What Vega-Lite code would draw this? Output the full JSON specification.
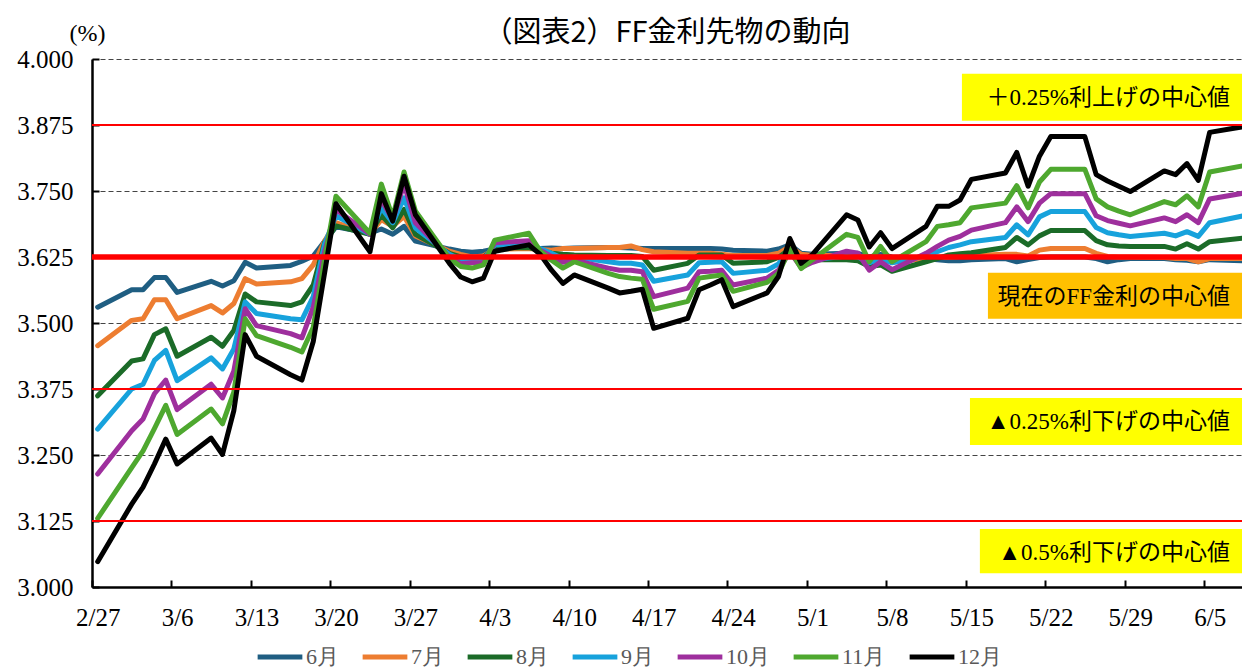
{
"$schema":"https://vega.github.io/schema/vega-lite/v6.json",
"width":1150,"height":528,
"autosize":{"type":"none"},
"padding":{"left":92,"top":59,"right":0,"bottom":83},
"background":"white",
"title":{"text":"（図表2）FF金利先物の動向","anchor":"middle","font":"Noto Sans CJK JP","fontSize":29,"fontWeight":"normal","color":"#000000","offset":0,"dy":27},
"config":{"view":{"stroke":null}},
"datasets":{
"lines":[
{"d":"2026-02-27","s":"6月","v":3.530},{"d":"2026-03-02","s":"6月","v":3.563},{"d":"2026-03-03","s":"6月","v":3.563},{"d":"2026-03-04","s":"6月","v":3.586},{"d":"2026-03-05","s":"6月","v":3.586},{"d":"2026-03-06","s":"6月","v":3.558},{"d":"2026-03-09","s":"6月","v":3.579},{"d":"2026-03-10","s":"6月","v":3.570},{"d":"2026-03-11","s":"6月","v":3.580},{"d":"2026-03-12","s":"6月","v":3.615},{"d":"2026-03-13","s":"6月","v":3.604},{"d":"2026-03-16","s":"6月","v":3.609},{"d":"2026-03-17","s":"6月","v":3.617},{"d":"2026-03-18","s":"6月","v":3.627},{"d":"2026-03-19","s":"6月","v":3.655},{"d":"2026-03-20","s":"6月","v":3.682},{"d":"2026-03-23","s":"6月","v":3.670},{"d":"2026-03-24","s":"6月","v":3.678},{"d":"2026-03-25","s":"6月","v":3.668},{"d":"2026-03-26","s":"6月","v":3.683},{"d":"2026-03-27","s":"6月","v":3.655},{"d":"2026-03-30","s":"6月","v":3.640},{"d":"2026-03-31","s":"6月","v":3.636},{"d":"2026-04-01","s":"6月","v":3.634},{"d":"2026-04-02","s":"6月","v":3.636},{"d":"2026-04-03","s":"6月","v":3.640},{"d":"2026-04-06","s":"6月","v":3.643},{"d":"2026-04-07","s":"6月","v":3.641},{"d":"2026-04-08","s":"6月","v":3.642},{"d":"2026-04-09","s":"6月","v":3.641},{"d":"2026-04-10","s":"6月","v":3.642},{"d":"2026-04-13","s":"6月","v":3.643},{"d":"2026-04-14","s":"6月","v":3.643},{"d":"2026-04-15","s":"6月","v":3.642},{"d":"2026-04-16","s":"6月","v":3.641},{"d":"2026-04-17","s":"6月","v":3.641},{"d":"2026-04-20","s":"6月","v":3.641},{"d":"2026-04-21","s":"6月","v":3.641},{"d":"2026-04-22","s":"6月","v":3.641},{"d":"2026-04-23","s":"6月","v":3.640},{"d":"2026-04-24","s":"6月","v":3.638},{"d":"2026-04-27","s":"6月","v":3.636},{"d":"2026-04-28","s":"6月","v":3.640},{"d":"2026-04-29","s":"6月","v":3.648},{"d":"2026-04-30","s":"6月","v":3.632},{"d":"2026-05-01","s":"6月","v":3.630},{"d":"2026-05-04","s":"6月","v":3.632},{"d":"2026-05-05","s":"6月","v":3.632},{"d":"2026-05-06","s":"6月","v":3.625},{"d":"2026-05-07","s":"6月","v":3.630},{"d":"2026-05-08","s":"6月","v":3.625},{"d":"2026-05-11","s":"6月","v":3.622},{"d":"2026-05-12","s":"6月","v":3.620},{"d":"2026-05-13","s":"6月","v":3.618},{"d":"2026-05-14","s":"6月","v":3.618},{"d":"2026-05-15","s":"6月","v":3.620},{"d":"2026-05-18","s":"6月","v":3.622},{"d":"2026-05-19","s":"6月","v":3.616},{"d":"2026-05-20","s":"6月","v":3.620},{"d":"2026-05-21","s":"6月","v":3.624},{"d":"2026-05-22","s":"6月","v":3.625},{"d":"2026-05-25","s":"6月","v":3.625},{"d":"2026-05-26","s":"6月","v":3.622},{"d":"2026-05-27","s":"6月","v":3.616},{"d":"2026-05-28","s":"6月","v":3.620},{"d":"2026-05-29","s":"6月","v":3.622},{"d":"2026-06-01","s":"6月","v":3.622},{"d":"2026-06-02","s":"6月","v":3.620},{"d":"2026-06-03","s":"6月","v":3.619},{"d":"2026-06-04","s":"6月","v":3.616},{"d":"2026-06-05","s":"6月","v":3.620},{"d":"2026-06-08","s":"6月","v":3.618},
{"d":"2026-02-27","s":"7月","v":3.457},{"d":"2026-03-02","s":"7月","v":3.505},{"d":"2026-03-03","s":"7月","v":3.508},{"d":"2026-03-04","s":"7月","v":3.544},{"d":"2026-03-05","s":"7月","v":3.544},{"d":"2026-03-06","s":"7月","v":3.508},{"d":"2026-03-09","s":"7月","v":3.533},{"d":"2026-03-10","s":"7月","v":3.519},{"d":"2026-03-11","s":"7月","v":3.537},{"d":"2026-03-12","s":"7月","v":3.584},{"d":"2026-03-13","s":"7月","v":3.574},{"d":"2026-03-16","s":"7月","v":3.578},{"d":"2026-03-17","s":"7月","v":3.584},{"d":"2026-03-18","s":"7月","v":3.610},{"d":"2026-03-19","s":"7月","v":3.655},{"d":"2026-03-20","s":"7月","v":3.690},{"d":"2026-03-23","s":"7月","v":3.668},{"d":"2026-03-24","s":"7月","v":3.696},{"d":"2026-03-25","s":"7月","v":3.683},{"d":"2026-03-26","s":"7月","v":3.702},{"d":"2026-03-27","s":"7月","v":3.665},{"d":"2026-03-30","s":"7月","v":3.636},{"d":"2026-03-31","s":"7月","v":3.630},{"d":"2026-04-01","s":"7月","v":3.625},{"d":"2026-04-02","s":"7月","v":3.627},{"d":"2026-04-03","s":"7月","v":3.640},{"d":"2026-04-06","s":"7月","v":3.641},{"d":"2026-04-07","s":"7月","v":3.639},{"d":"2026-04-08","s":"7月","v":3.638},{"d":"2026-04-09","s":"7月","v":3.641},{"d":"2026-04-10","s":"7月","v":3.641},{"d":"2026-04-13","s":"7月","v":3.643},{"d":"2026-04-14","s":"7月","v":3.643},{"d":"2026-04-15","s":"7月","v":3.646},{"d":"2026-04-16","s":"7月","v":3.639},{"d":"2026-04-17","s":"7月","v":3.635},{"d":"2026-04-20","s":"7月","v":3.632},{"d":"2026-04-21","s":"7月","v":3.632},{"d":"2026-04-22","s":"7月","v":3.632},{"d":"2026-04-23","s":"7月","v":3.630},{"d":"2026-04-24","s":"7月","v":3.628},{"d":"2026-04-27","s":"7月","v":3.628},{"d":"2026-04-28","s":"7月","v":3.632},{"d":"2026-04-29","s":"7月","v":3.645},{"d":"2026-04-30","s":"7月","v":3.630},{"d":"2026-05-01","s":"7月","v":3.628},{"d":"2026-05-04","s":"7月","v":3.628},{"d":"2026-05-05","s":"7月","v":3.628},{"d":"2026-05-06","s":"7月","v":3.620},{"d":"2026-05-07","s":"7月","v":3.625},{"d":"2026-05-08","s":"7月","v":3.615},{"d":"2026-05-11","s":"7月","v":3.622},{"d":"2026-05-12","s":"7月","v":3.625},{"d":"2026-05-13","s":"7月","v":3.625},{"d":"2026-05-14","s":"7月","v":3.626},{"d":"2026-05-15","s":"7月","v":3.628},{"d":"2026-05-18","s":"7月","v":3.630},{"d":"2026-05-19","s":"7月","v":3.630},{"d":"2026-05-20","s":"7月","v":3.627},{"d":"2026-05-21","s":"7月","v":3.638},{"d":"2026-05-22","s":"7月","v":3.641},{"d":"2026-05-25","s":"7月","v":3.641},{"d":"2026-05-26","s":"7月","v":3.632},{"d":"2026-05-27","s":"7月","v":3.626},{"d":"2026-05-28","s":"7月","v":3.625},{"d":"2026-05-29","s":"7月","v":3.625},{"d":"2026-06-01","s":"7月","v":3.624},{"d":"2026-06-02","s":"7月","v":3.622},{"d":"2026-06-03","s":"7月","v":3.622},{"d":"2026-06-04","s":"7月","v":3.616},{"d":"2026-06-05","s":"7月","v":3.622},{"d":"2026-06-08","s":"7月","v":3.622},
{"d":"2026-02-27","s":"8月","v":3.362},{"d":"2026-03-02","s":"8月","v":3.428},{"d":"2026-03-03","s":"8月","v":3.432},{"d":"2026-03-04","s":"8月","v":3.478},{"d":"2026-03-05","s":"8月","v":3.489},{"d":"2026-03-06","s":"8月","v":3.437},{"d":"2026-03-09","s":"8月","v":3.473},{"d":"2026-03-10","s":"8月","v":3.456},{"d":"2026-03-11","s":"8月","v":3.486},{"d":"2026-03-12","s":"8月","v":3.555},{"d":"2026-03-13","s":"8月","v":3.540},{"d":"2026-03-16","s":"8月","v":3.533},{"d":"2026-03-17","s":"8月","v":3.540},{"d":"2026-03-18","s":"8月","v":3.572},{"d":"2026-03-19","s":"8月","v":3.652},{"d":"2026-03-20","s":"8月","v":3.684},{"d":"2026-03-23","s":"8月","v":3.668},{"d":"2026-03-24","s":"8月","v":3.705},{"d":"2026-03-25","s":"8月","v":3.680},{"d":"2026-03-26","s":"8月","v":3.715},{"d":"2026-03-27","s":"8月","v":3.668},{"d":"2026-03-30","s":"8月","v":3.632},{"d":"2026-03-31","s":"8月","v":3.625},{"d":"2026-04-01","s":"8月","v":3.622},{"d":"2026-04-02","s":"8月","v":3.624},{"d":"2026-04-03","s":"8月","v":3.642},{"d":"2026-04-06","s":"8月","v":3.643},{"d":"2026-04-07","s":"8月","v":3.637},{"d":"2026-04-08","s":"8月","v":3.632},{"d":"2026-04-09","s":"8月","v":3.630},{"d":"2026-04-10","s":"8月","v":3.629},{"d":"2026-04-13","s":"8月","v":3.628},{"d":"2026-04-14","s":"8月","v":3.628},{"d":"2026-04-15","s":"8月","v":3.628},{"d":"2026-04-16","s":"8月","v":3.626},{"d":"2026-04-17","s":"8月","v":3.600},{"d":"2026-04-20","s":"8月","v":3.613},{"d":"2026-04-21","s":"8月","v":3.629},{"d":"2026-04-22","s":"8月","v":3.629},{"d":"2026-04-23","s":"8月","v":3.629},{"d":"2026-04-24","s":"8月","v":3.613},{"d":"2026-04-27","s":"8月","v":3.616},{"d":"2026-04-28","s":"8月","v":3.624},{"d":"2026-04-29","s":"8月","v":3.640},{"d":"2026-04-30","s":"8月","v":3.618},{"d":"2026-05-01","s":"8月","v":3.620},{"d":"2026-05-04","s":"8月","v":3.620},{"d":"2026-05-05","s":"8月","v":3.618},{"d":"2026-05-06","s":"8月","v":3.607},{"d":"2026-05-07","s":"8月","v":3.610},{"d":"2026-05-08","s":"8月","v":3.598},{"d":"2026-05-11","s":"8月","v":3.616},{"d":"2026-05-12","s":"8月","v":3.622},{"d":"2026-05-13","s":"8月","v":3.629},{"d":"2026-05-14","s":"8月","v":3.631},{"d":"2026-05-15","s":"8月","v":3.633},{"d":"2026-05-18","s":"8月","v":3.643},{"d":"2026-05-19","s":"8月","v":3.662},{"d":"2026-05-20","s":"8月","v":3.648},{"d":"2026-05-21","s":"8月","v":3.665},{"d":"2026-05-22","s":"8月","v":3.675},{"d":"2026-05-25","s":"8月","v":3.675},{"d":"2026-05-26","s":"8月","v":3.656},{"d":"2026-05-27","s":"8月","v":3.648},{"d":"2026-05-28","s":"8月","v":3.646},{"d":"2026-05-29","s":"8月","v":3.645},{"d":"2026-06-01","s":"8月","v":3.645},{"d":"2026-06-02","s":"8月","v":3.640},{"d":"2026-06-03","s":"8月","v":3.650},{"d":"2026-06-04","s":"8月","v":3.640},{"d":"2026-06-05","s":"8月","v":3.654},{"d":"2026-06-08","s":"8月","v":3.661},
{"d":"2026-02-27","s":"9月","v":3.299},{"d":"2026-03-02","s":"9月","v":3.375},{"d":"2026-03-03","s":"9月","v":3.384},{"d":"2026-03-04","s":"9月","v":3.429},{"d":"2026-03-05","s":"9月","v":3.448},{"d":"2026-03-06","s":"9月","v":3.391},{"d":"2026-03-09","s":"9月","v":3.434},{"d":"2026-03-10","s":"9月","v":3.413},{"d":"2026-03-11","s":"9月","v":3.451},{"d":"2026-03-12","s":"9月","v":3.540},{"d":"2026-03-13","s":"9月","v":3.518},{"d":"2026-03-16","s":"9月","v":3.508},{"d":"2026-03-17","s":"9月","v":3.506},{"d":"2026-03-18","s":"9月","v":3.550},{"d":"2026-03-19","s":"9月","v":3.650},{"d":"2026-03-20","s":"9月","v":3.703},{"d":"2026-03-23","s":"9月","v":3.668},{"d":"2026-03-24","s":"9月","v":3.718},{"d":"2026-03-25","s":"9月","v":3.690},{"d":"2026-03-26","s":"9月","v":3.737},{"d":"2026-03-27","s":"9月","v":3.680},{"d":"2026-03-30","s":"9月","v":3.630},{"d":"2026-03-31","s":"9月","v":3.620},{"d":"2026-04-01","s":"9月","v":3.618},{"d":"2026-04-02","s":"9月","v":3.620},{"d":"2026-04-03","s":"9月","v":3.648},{"d":"2026-04-06","s":"9月","v":3.648},{"d":"2026-04-07","s":"9月","v":3.641},{"d":"2026-04-08","s":"9月","v":3.632},{"d":"2026-04-09","s":"9月","v":3.622},{"d":"2026-04-10","s":"9月","v":3.625},{"d":"2026-04-13","s":"9月","v":3.616},{"d":"2026-04-14","s":"9月","v":3.613},{"d":"2026-04-15","s":"9月","v":3.613},{"d":"2026-04-16","s":"9月","v":3.610},{"d":"2026-04-17","s":"9月","v":3.579},{"d":"2026-04-20","s":"9月","v":3.591},{"d":"2026-04-21","s":"9月","v":3.614},{"d":"2026-04-22","s":"9月","v":3.615},{"d":"2026-04-23","s":"9月","v":3.616},{"d":"2026-04-24","s":"9月","v":3.594},{"d":"2026-04-27","s":"9月","v":3.600},{"d":"2026-04-28","s":"9月","v":3.612},{"d":"2026-04-29","s":"9月","v":3.638},{"d":"2026-04-30","s":"9月","v":3.615},{"d":"2026-05-01","s":"9月","v":3.620},{"d":"2026-05-04","s":"9月","v":3.627},{"d":"2026-05-05","s":"9月","v":3.625},{"d":"2026-05-06","s":"9月","v":3.614},{"d":"2026-05-07","s":"9月","v":3.622},{"d":"2026-05-08","s":"9月","v":3.614},{"d":"2026-05-11","s":"9月","v":3.627},{"d":"2026-05-12","s":"9月","v":3.635},{"d":"2026-05-13","s":"9月","v":3.643},{"d":"2026-05-14","s":"9月","v":3.648},{"d":"2026-05-15","s":"9月","v":3.654},{"d":"2026-05-18","s":"9月","v":3.662},{"d":"2026-05-19","s":"9月","v":3.686},{"d":"2026-05-20","s":"9月","v":3.667},{"d":"2026-05-21","s":"9月","v":3.701},{"d":"2026-05-22","s":"9月","v":3.711},{"d":"2026-05-25","s":"9月","v":3.711},{"d":"2026-05-26","s":"9月","v":3.681},{"d":"2026-05-27","s":"9月","v":3.671},{"d":"2026-05-28","s":"9月","v":3.667},{"d":"2026-05-29","s":"9月","v":3.664},{"d":"2026-06-01","s":"9月","v":3.670},{"d":"2026-06-02","s":"9月","v":3.665},{"d":"2026-06-03","s":"9月","v":3.673},{"d":"2026-06-04","s":"9月","v":3.664},{"d":"2026-06-05","s":"9月","v":3.690},{"d":"2026-06-08","s":"9月","v":3.703},
{"d":"2026-02-27","s":"10月","v":3.214},{"d":"2026-03-02","s":"10月","v":3.296},{"d":"2026-03-03","s":"10月","v":3.318},{"d":"2026-03-04","s":"10月","v":3.366},{"d":"2026-03-05","s":"10月","v":3.392},{"d":"2026-03-06","s":"10月","v":3.336},{"d":"2026-03-09","s":"10月","v":3.384},{"d":"2026-03-10","s":"10月","v":3.358},{"d":"2026-03-11","s":"10月","v":3.409},{"d":"2026-03-12","s":"10月","v":3.527},{"d":"2026-03-13","s":"10月","v":3.495},{"d":"2026-03-16","s":"10月","v":3.480},{"d":"2026-03-17","s":"10月","v":3.472},{"d":"2026-03-18","s":"10月","v":3.530},{"d":"2026-03-19","s":"10月","v":3.635},{"d":"2026-03-20","s":"10月","v":3.715},{"d":"2026-03-23","s":"10月","v":3.668},{"d":"2026-03-24","s":"10月","v":3.734},{"d":"2026-03-25","s":"10月","v":3.695},{"d":"2026-03-26","s":"10月","v":3.763},{"d":"2026-03-27","s":"10月","v":3.690},{"d":"2026-03-30","s":"10月","v":3.625},{"d":"2026-03-31","s":"10月","v":3.612},{"d":"2026-04-01","s":"10月","v":3.614},{"d":"2026-04-02","s":"10月","v":3.614},{"d":"2026-04-03","s":"10月","v":3.652},{"d":"2026-04-06","s":"10月","v":3.656},{"d":"2026-04-07","s":"10月","v":3.638},{"d":"2026-04-08","s":"10月","v":3.626},{"d":"2026-04-09","s":"10月","v":3.615},{"d":"2026-04-10","s":"10月","v":3.619},{"d":"2026-04-13","s":"10月","v":3.604},{"d":"2026-04-14","s":"10月","v":3.600},{"d":"2026-04-15","s":"10月","v":3.600},{"d":"2026-04-16","s":"10月","v":3.597},{"d":"2026-04-17","s":"10月","v":3.550},{"d":"2026-04-20","s":"10月","v":3.566},{"d":"2026-04-21","s":"10月","v":3.597},{"d":"2026-04-22","s":"10月","v":3.598},{"d":"2026-04-23","s":"10月","v":3.600},{"d":"2026-04-24","s":"10月","v":3.572},{"d":"2026-04-27","s":"10月","v":3.585},{"d":"2026-04-28","s":"10月","v":3.600},{"d":"2026-04-29","s":"10月","v":3.635},{"d":"2026-04-30","s":"10月","v":3.605},{"d":"2026-05-01","s":"10月","v":3.615},{"d":"2026-05-04","s":"10月","v":3.636},{"d":"2026-05-05","s":"10月","v":3.632},{"d":"2026-05-06","s":"10月","v":3.600},{"d":"2026-05-07","s":"10月","v":3.616},{"d":"2026-05-08","s":"10月","v":3.601},{"d":"2026-05-11","s":"10月","v":3.632},{"d":"2026-05-12","s":"10月","v":3.645},{"d":"2026-05-13","s":"10月","v":3.657},{"d":"2026-05-14","s":"10月","v":3.664},{"d":"2026-05-15","s":"10月","v":3.676},{"d":"2026-05-18","s":"10月","v":3.690},{"d":"2026-05-19","s":"10月","v":3.720},{"d":"2026-05-20","s":"10月","v":3.692},{"d":"2026-05-21","s":"10月","v":3.727},{"d":"2026-05-22","s":"10月","v":3.745},{"d":"2026-05-25","s":"10月","v":3.745},{"d":"2026-05-26","s":"10月","v":3.703},{"d":"2026-05-27","s":"10月","v":3.694},{"d":"2026-05-28","s":"10月","v":3.689},{"d":"2026-05-29","s":"10月","v":3.684},{"d":"2026-06-01","s":"10月","v":3.699},{"d":"2026-06-02","s":"10月","v":3.692},{"d":"2026-06-03","s":"10月","v":3.705},{"d":"2026-06-04","s":"10月","v":3.690},{"d":"2026-06-05","s":"10月","v":3.735},{"d":"2026-06-08","s":"10月","v":3.746},
{"d":"2026-02-27","s":"11月","v":3.130},{"d":"2026-03-02","s":"11月","v":3.226},{"d":"2026-03-03","s":"11月","v":3.258},{"d":"2026-03-04","s":"11月","v":3.300},{"d":"2026-03-05","s":"11月","v":3.344},{"d":"2026-03-06","s":"11月","v":3.289},{"d":"2026-03-09","s":"11月","v":3.337},{"d":"2026-03-10","s":"11月","v":3.309},{"d":"2026-03-11","s":"11月","v":3.369},{"d":"2026-03-12","s":"11月","v":3.508},{"d":"2026-03-13","s":"11月","v":3.476},{"d":"2026-03-16","s":"11月","v":3.454},{"d":"2026-03-17","s":"11月","v":3.445},{"d":"2026-03-18","s":"11月","v":3.492},{"d":"2026-03-19","s":"11月","v":3.620},{"d":"2026-03-20","s":"11月","v":3.740},{"d":"2026-03-23","s":"11月","v":3.670},{"d":"2026-03-24","s":"11月","v":3.763},{"d":"2026-03-25","s":"11月","v":3.700},{"d":"2026-03-26","s":"11月","v":3.786},{"d":"2026-03-27","s":"11月","v":3.712},{"d":"2026-03-30","s":"11月","v":3.622},{"d":"2026-03-31","s":"11月","v":3.607},{"d":"2026-04-01","s":"11月","v":3.604},{"d":"2026-04-02","s":"11月","v":3.610},{"d":"2026-04-03","s":"11月","v":3.657},{"d":"2026-04-06","s":"11月","v":3.670},{"d":"2026-04-07","s":"11月","v":3.636},{"d":"2026-04-08","s":"11月","v":3.619},{"d":"2026-04-09","s":"11月","v":3.604},{"d":"2026-04-10","s":"11月","v":3.616},{"d":"2026-04-13","s":"11月","v":3.594},{"d":"2026-04-14","s":"11月","v":3.588},{"d":"2026-04-15","s":"11月","v":3.585},{"d":"2026-04-16","s":"11月","v":3.583},{"d":"2026-04-17","s":"11月","v":3.526},{"d":"2026-04-20","s":"11月","v":3.541},{"d":"2026-04-21","s":"11月","v":3.585},{"d":"2026-04-22","s":"11月","v":3.588},{"d":"2026-04-23","s":"11月","v":3.591},{"d":"2026-04-24","s":"11月","v":3.560},{"d":"2026-04-27","s":"11月","v":3.577},{"d":"2026-04-28","s":"11月","v":3.594},{"d":"2026-04-29","s":"11月","v":3.640},{"d":"2026-04-30","s":"11月","v":3.603},{"d":"2026-05-01","s":"11月","v":3.620},{"d":"2026-05-04","s":"11月","v":3.668},{"d":"2026-05-05","s":"11月","v":3.662},{"d":"2026-05-06","s":"11月","v":3.616},{"d":"2026-05-07","s":"11月","v":3.645},{"d":"2026-05-08","s":"11月","v":3.616},{"d":"2026-05-11","s":"11月","v":3.654},{"d":"2026-05-12","s":"11月","v":3.683},{"d":"2026-05-13","s":"11月","v":3.686},{"d":"2026-05-14","s":"11月","v":3.690},{"d":"2026-05-15","s":"11月","v":3.718},{"d":"2026-05-18","s":"11月","v":3.727},{"d":"2026-05-19","s":"11月","v":3.760},{"d":"2026-05-20","s":"11月","v":3.718},{"d":"2026-05-21","s":"11月","v":3.767},{"d":"2026-05-22","s":"11月","v":3.791},{"d":"2026-05-25","s":"11月","v":3.791},{"d":"2026-05-26","s":"11月","v":3.735},{"d":"2026-05-27","s":"11月","v":3.720},{"d":"2026-05-28","s":"11月","v":3.712},{"d":"2026-05-29","s":"11月","v":3.705},{"d":"2026-06-01","s":"11月","v":3.730},{"d":"2026-06-02","s":"11月","v":3.724},{"d":"2026-06-03","s":"11月","v":3.741},{"d":"2026-06-04","s":"11月","v":3.720},{"d":"2026-06-05","s":"11月","v":3.786},{"d":"2026-06-08","s":"11月","v":3.798},
{"d":"2026-02-27","s":"12月","v":3.048},{"d":"2026-03-02","s":"12月","v":3.157},{"d":"2026-03-03","s":"12月","v":3.189},{"d":"2026-03-04","s":"12月","v":3.233},{"d":"2026-03-05","s":"12月","v":3.280},{"d":"2026-03-06","s":"12月","v":3.233},{"d":"2026-03-09","s":"12月","v":3.282},{"d":"2026-03-10","s":"12月","v":3.251},{"d":"2026-03-11","s":"12月","v":3.334},{"d":"2026-03-12","s":"12月","v":3.478},{"d":"2026-03-13","s":"12月","v":3.437},{"d":"2026-03-16","s":"12月","v":3.402},{"d":"2026-03-17","s":"12月","v":3.392},{"d":"2026-03-18","s":"12月","v":3.465},{"d":"2026-03-19","s":"12月","v":3.595},{"d":"2026-03-20","s":"12月","v":3.726},{"d":"2026-03-23","s":"12月","v":3.635},{"d":"2026-03-24","s":"12月","v":3.745},{"d":"2026-03-25","s":"12月","v":3.693},{"d":"2026-03-26","s":"12月","v":3.778},{"d":"2026-03-27","s":"12月","v":3.705},{"d":"2026-03-30","s":"12月","v":3.613},{"d":"2026-03-31","s":"12月","v":3.587},{"d":"2026-04-01","s":"12月","v":3.578},{"d":"2026-04-02","s":"12月","v":3.585},{"d":"2026-04-03","s":"12月","v":3.636},{"d":"2026-04-06","s":"12月","v":3.648},{"d":"2026-04-07","s":"12月","v":3.630},{"d":"2026-04-08","s":"12月","v":3.600},{"d":"2026-04-09","s":"12月","v":3.575},{"d":"2026-04-10","s":"12月","v":3.591},{"d":"2026-04-13","s":"12月","v":3.566},{"d":"2026-04-14","s":"12月","v":3.557},{"d":"2026-04-15","s":"12月","v":3.560},{"d":"2026-04-16","s":"12月","v":3.564},{"d":"2026-04-17","s":"12月","v":3.490},{"d":"2026-04-20","s":"12月","v":3.509},{"d":"2026-04-21","s":"12月","v":3.563},{"d":"2026-04-22","s":"12月","v":3.572},{"d":"2026-04-23","s":"12月","v":3.582},{"d":"2026-04-24","s":"12月","v":3.531},{"d":"2026-04-27","s":"12月","v":3.557},{"d":"2026-04-28","s":"12月","v":3.588},{"d":"2026-04-29","s":"12月","v":3.660},{"d":"2026-04-30","s":"12月","v":3.613},{"d":"2026-05-01","s":"12月","v":3.630},{"d":"2026-05-04","s":"12月","v":3.705},{"d":"2026-05-05","s":"12月","v":3.695},{"d":"2026-05-06","s":"12月","v":3.644},{"d":"2026-05-07","s":"12月","v":3.671},{"d":"2026-05-08","s":"12月","v":3.641},{"d":"2026-05-11","s":"12月","v":3.683},{"d":"2026-05-12","s":"12月","v":3.721},{"d":"2026-05-13","s":"12月","v":3.721},{"d":"2026-05-14","s":"12月","v":3.733},{"d":"2026-05-15","s":"12月","v":3.772},{"d":"2026-05-18","s":"12月","v":3.784},{"d":"2026-05-19","s":"12月","v":3.823},{"d":"2026-05-20","s":"12月","v":3.759},{"d":"2026-05-21","s":"12月","v":3.816},{"d":"2026-05-22","s":"12月","v":3.853},{"d":"2026-05-25","s":"12月","v":3.853},{"d":"2026-05-26","s":"12月","v":3.781},{"d":"2026-05-27","s":"12月","v":3.769},{"d":"2026-05-28","s":"12月","v":3.759},{"d":"2026-05-29","s":"12月","v":3.749},{"d":"2026-06-01","s":"12月","v":3.788},{"d":"2026-06-02","s":"12月","v":3.781},{"d":"2026-06-03","s":"12月","v":3.802},{"d":"2026-06-04","s":"12月","v":3.770},{"d":"2026-06-05","s":"12月","v":3.861},{"d":"2026-06-08","s":"12月","v":3.872}
],
"thin":[{"v":3.875},{"v":3.375},{"v":3.125}],
"thick":[{"v":3.625}],
"yellow":[
{"x":"2026-05-14T04:00:00Z","x2":"2026-06-09T00:00:00Z","y":3.972,"y2":3.883},
{"x":"2026-05-14T21:00:00Z","x2":"2026-06-09T00:00:00Z","y":3.358,"y2":3.269},
{"x":"2026-05-15T18:00:00Z","x2":"2026-06-09T00:00:00Z","y":3.110,"y2":3.026}
],
"orange":[{"x":"2026-05-16T11:00:00Z","x2":"2026-06-09T00:00:00Z","y":3.595,"y2":3.508}],
"labels":[
{"x":"2026-06-07T20:24:00Z","y":3.927,"t":"＋0.25%利上げの中心値"},
{"x":"2026-06-07T20:24:00Z","y":3.550,"t":"現在のFF金利の中心値"},
{"x":"2026-06-07T20:24:00Z","y":3.313,"t":"▲0.25%利下げの中心値"},
{"x":"2026-06-07T20:24:00Z","y":3.064,"t":"▲0.5%利下げの中心値"}
]
},
"layer":[
{
"data":{"name":"lines","format":{"parse":{"d":"date"}}},
"mark":{"type":"line","strokeWidth":5,"strokeJoin":"round","strokeCap":"round","clip":true},
"encoding":{
"x":{"field":"d","type":"temporal",
"scale":{"type":"utc","domain":[{"year":2026,"month":2,"date":26,"hours":12,"utc":true},{"year":2026,"month":6,"date":7,"hours":20,"minutes":24,"utc":true}]},
"axis":{"title":null,"grid":false,
"values":[{"year":2026,"month":2,"date":27,"utc":true},{"year":2026,"month":3,"date":6,"utc":true},{"year":2026,"month":3,"date":13,"utc":true},{"year":2026,"month":3,"date":20,"utc":true},{"year":2026,"month":3,"date":27,"utc":true},{"year":2026,"month":4,"date":3,"utc":true},{"year":2026,"month":4,"date":10,"utc":true},{"year":2026,"month":4,"date":17,"utc":true},{"year":2026,"month":4,"date":24,"utc":true},{"year":2026,"month":5,"date":1,"utc":true},{"year":2026,"month":5,"date":8,"utc":true},{"year":2026,"month":5,"date":15,"utc":true},{"year":2026,"month":5,"date":22,"utc":true},{"year":2026,"month":5,"date":29,"utc":true},{"year":2026,"month":6,"date":5,"utc":true}],
"labelExpr":"utcFormat(datum.value, '%-m/%-d')",
"tickOffset":-5.67,"labelOffset":5.67,"labelFlush":false,"labelOverlap":false,
"labelFont":"Liberation Serif","labelFontSize":25,"labelColor":"#000000","labelPadding":25,
"tickSize":-7,"tickColor":"#000000","tickWidth":2,
"domainColor":"#000000","domainWidth":2.5}},
"y":{"field":"v","type":"quantitative",
"scale":{"domain":[3,4],"zero":false,"nice":false},
"axis":{"values":[3,3.125,3.25,3.375,3.5,3.625,3.75,3.875,4],"format":".3f",
"labelFont":"Liberation Serif","labelFontSize":25,"labelColor":"#000000","labelPadding":26,
"tickSize":-7,"tickColor":"#000000","tickWidth":2,
"domainColor":"#000000","domainWidth":2.5,
"grid":true,"gridDash":[5,3],"gridColor":"#444444","gridWidth":1.2,
"title":"(%)","titleAngle":0,"titleX":-5,"titleY":-26,"titleAlign":"center","titleBaseline":"middle",
"titleFont":"Liberation Serif","titleFontSize":24,"titleFontWeight":"normal","titleColor":"#000000"}},
"color":{"field":"s","type":"nominal",
"scale":{"domain":["6月","7月","8月","9月","10月","11月","12月"],"range":["#1F5E82","#ED7D31","#1B6B28","#17A2DC","#9E2F9D","#4EA82F","#000000"]},
"legend":{"orient":"none","legendX":163,"legendY":573,"direction":"horizontal","title":null,
"symbolType":"stroke","symbolStrokeWidth":5,"symbolSize":2000,
"labelFont":"Liberation Serif","labelFontSize":22,"labelColor":"#595959","labelOffset":1,"columnPadding":13}}
}
},
{
"data":{"name":"thin"},
"mark":{"type":"rule","color":"#FF0000","strokeWidth":2},
"encoding":{"y":{"field":"v","type":"quantitative","scale":{"domain":[3,4]}}}
},
{
"data":{"name":"thick"},
"mark":{"type":"rule","color":"#FF0000","strokeWidth":5.5},
"encoding":{"y":{"field":"v","type":"quantitative","scale":{"domain":[3,4]}}}
},
{
"data":{"name":"yellow","format":{"parse":{"x":"date","x2":"date"}}},
"mark":{"type":"rect","color":"#FFFF00","clip":true},
"encoding":{
"x":{"field":"x","type":"temporal"},"x2":{"field":"x2"},
"y":{"field":"y","type":"quantitative"},"y2":{"field":"y2"}}
},
{
"data":{"name":"orange","format":{"parse":{"x":"date","x2":"date"}}},
"mark":{"type":"rect","color":"#FFC000","clip":true},
"encoding":{
"x":{"field":"x","type":"temporal"},"x2":{"field":"x2"},
"y":{"field":"y","type":"quantitative"},"y2":{"field":"y2"}}
},
{
"data":{"name":"labels","format":{"parse":{"x":"date"}}},
"mark":{"type":"text","align":"right","baseline":"middle","dx":-12,"font":"Liberation Serif, Noto Sans CJK JP","fontSize":23,"color":"#000000"},
"encoding":{
"x":{"field":"x","type":"temporal"},
"y":{"field":"y","type":"quantitative"},
"text":{"field":"t"}}
}
]
}
